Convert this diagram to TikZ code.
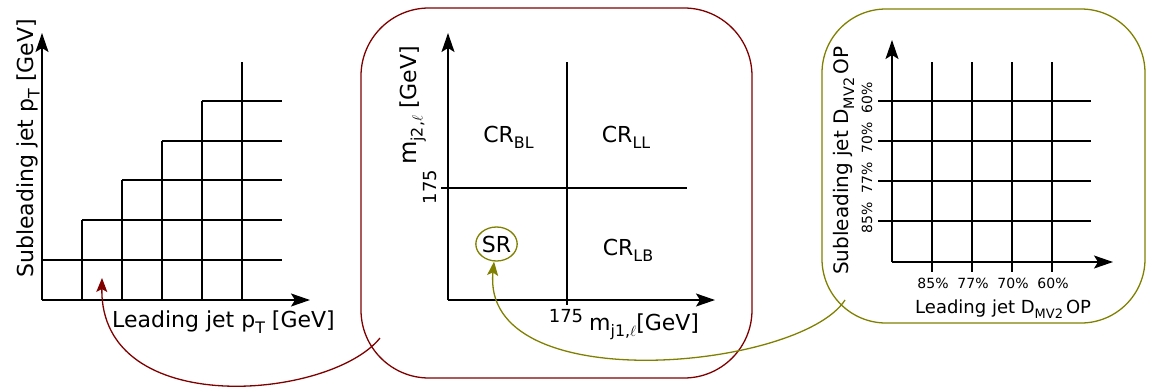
\documentclass[tikz,border=0pt]{standalone}
\usepackage{fontspec}
\setmainfont{DejaVu Sans}
\usetikzlibrary{arrows.meta,shapes.geometric}
\definecolor{dred}{RGB}{128,0,0}
\definecolor{olv}{RGB}{128,128,0}
\newcommand\lsub[1]{\raisebox{-0.3em}{\scalebox{0.72}{#1}}}
\newcommand\fsz[1]{\fontsize{#1}{#1}\selectfont}
\begin{document}
\begin{tikzpicture}[x=1pt,y=-1pt,
  axis/.style={line width=1.5pt,-{Stealth[length=19pt,width=13pt,inset=4pt]}},
  gridline/.style={line width=1.3pt},
  lab/.style={inner sep=0pt,font=\fsz{22}},
  small/.style={inner sep=0pt,font=\fsz{18}},
  tiny/.style={inner sep=0pt,font=\fsz{14}},
  region/.style={inner sep=0pt,font=\fsz{22},anchor=base},
  bigbox/.style={line width=1.3pt,inner sep=0pt},
  link/.style={line width=1.3pt,-{Stealth[length=14pt,width=11pt,inset=3pt]}}]
\useasboundingbox (0,0) rectangle (1149,389);

% ---------- left plot ----------
\draw[gridline] (42,260) -- (282,260);
\draw[gridline] (82,220) -- (282,220);
\draw[gridline] (122,180) -- (282,180);
\draw[gridline] (162,141) -- (282,141);
\draw[gridline] (202,101) -- (282,101);
\draw[gridline] (82,300) -- (82,220);
\draw[gridline] (122,300) -- (122,180);
\draw[gridline] (162,300) -- (162,141);
\draw[gridline] (202,300) -- (202,101);
\draw[gridline] (242,300) -- (242,62);
\draw[axis] (42,300) -- (310,300);
\draw[axis] (42,300) -- (42,33);
\node[lab,rotate=90,anchor=base west] (lyl) at (33,278) {Subleading jet p\lsub{T} [GeV]};
\node[lab,anchor=base west] (lxl) at (112,327) {Leading jet p\lsub{T} [GeV]};

% ---------- centre box ----------
\node[bigbox,draw=dred,rounded corners=68pt,minimum width=391pt,minimum height=370pt] (cbox) at (556.5,193) {};
\draw[gridline] (567,62) -- (567,305);
\draw[gridline] (441,188) -- (687,188);
\draw[axis] (448,300) -- (715,300);
\draw[axis] (448,300) -- (448,33);
\node[lab,rotate=90,anchor=base west] (cyl) at (416,165) {{\fsz{24}m}\lsub{j2,$\ell$} [GeV]};
\node[lab,anchor=base west] (cxl) at (589,330) {m\lsub{j1,$\ell$}[GeV]};
\node[small] (cx175) at (566,316) {175};
\node[small,rotate=90] (cy175) at (430,187) {175};
\node[region] (crbl) at (508.5,142) {CR\lsub{BL}};
\node[region] (crll) at (626,142) {CR\lsub{LL}};
\node[region] (crlb) at (628,255) {CR\lsub{LB}};
\node[ellipse,draw=olv,line width=1.3pt,inner sep=0pt,minimum width=39pt,minimum height=34pt,font=\fsz{22}] (SR) at (496.5,244) {SR};

% ---------- right box ----------
\node[bigbox,draw=olv,rounded corners=64pt,minimum width=323pt,minimum height=314pt] (rbox) at (983.5,166) {};
\foreach \x in {932,972,1012,1052} \draw[gridline] (\x,62) -- (\x,272);
\foreach \y in {101,141,181,221} \draw[gridline] (878,\y) -- (1091,\y);
\draw[axis] (892,262) -- (1113,262);
\draw[axis] (892,262) -- (892,40);
\node[tiny] (rx1) at (933,283) {85\%};
\node[tiny] (rx2) at (973,283) {77\%};
\node[tiny] (rx3) at (1013,283) {70\%};
\node[tiny] (rx4) at (1053,283) {60\%};
\node[tiny,rotate=90] (ry1) at (867,218) {85\%};
\node[tiny,rotate=90] (ry2) at (867,178) {77\%};
\node[tiny,rotate=90] (ry3) at (867,138) {70\%};
\node[tiny,rotate=90] (ry4) at (867,98) {60\%};
\node[inner sep=0pt,font=\fsz{20},rotate=90,anchor=base west] (ryl) at (848,275) {Subleading jet D\lsub{MV2}\,OP};
\node[inner sep=0pt,font=\fsz{18},anchor=base west] (rxl) at (915,313) {Leading jet D\lsub{MV2}\,OP};

% ---------- links ----------
\coordinate (rstart) at (380,338);
\coordinate (rend) at (102,278);
\draw[link,dred] (rstart) .. controls (330,400) and (100,420) .. (rend);
\coordinate (ostart) at (845,300);
\draw[link,olv] (ostart) .. controls (800,370) and (480,400) .. (SR.262);
\end{tikzpicture}
\end{document}
